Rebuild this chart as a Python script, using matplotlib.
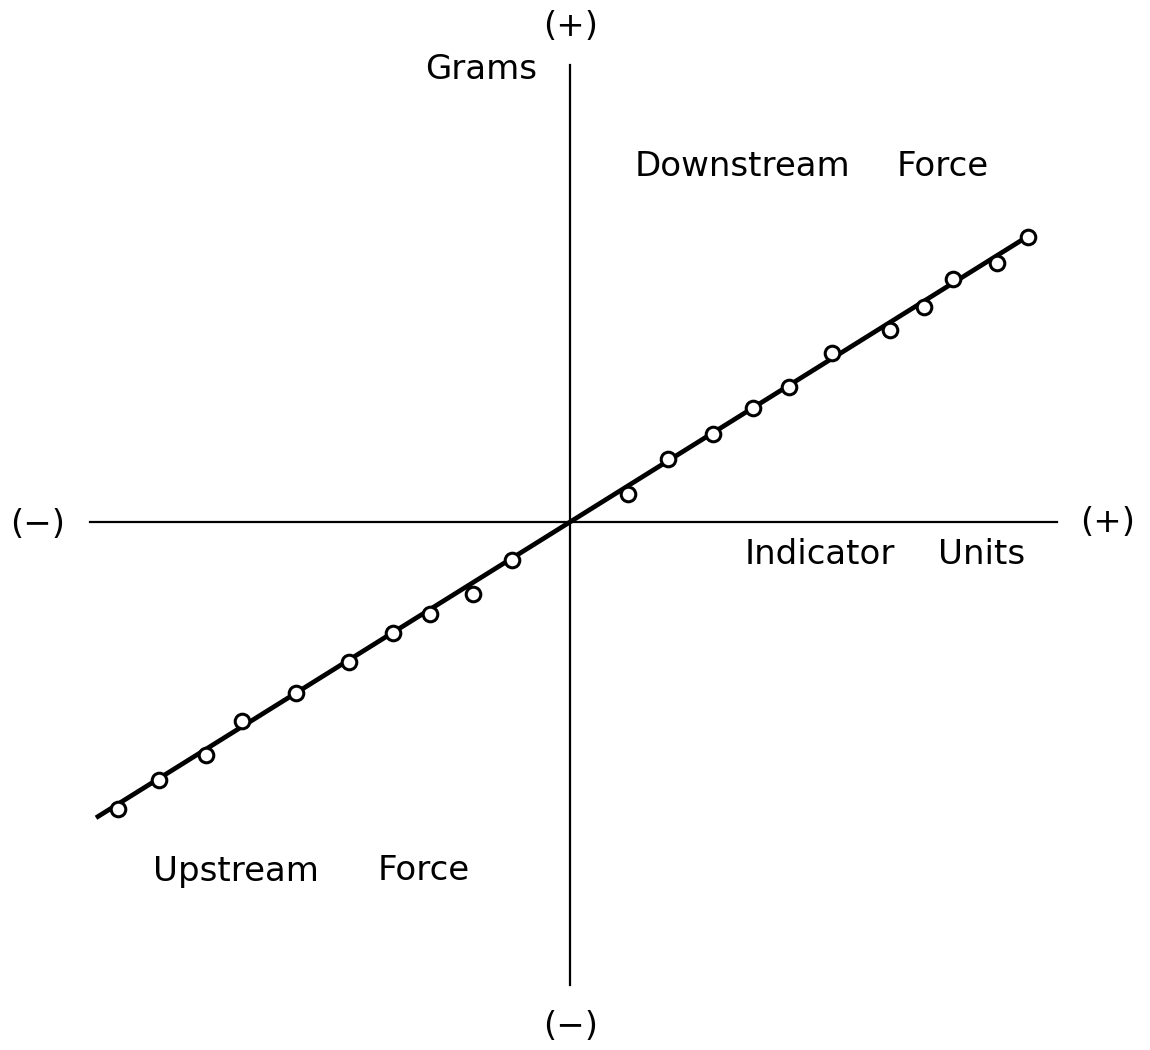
import numpy as np
import matplotlib
matplotlib.use("Agg")
import matplotlib.pyplot as plt

# calibration readings: indicator units vs grams (upstream negative, downstream positive)
indicator = [-45.2, -41.1, -36.4, -32.8, -27.4, -22.1, -17.7, -14.0, -9.7, -5.8,
             5.8, 9.8, 14.3, 18.3, 21.9, 26.2, 32.0, 35.4, 38.3, 42.7, 45.8]
grams = [-28.7, -25.8, -23.3, -19.9, -17.1, -14.0, -11.1, -9.2, -7.2, -3.8,
         2.8, 6.3, 8.8, 11.4, 13.5, 16.9, 19.2, 21.5, 24.3, 25.9, 28.5]

# calibration line through the origin
slope = 0.624
fit_x = np.array([-47.4, 45.8])
fit_y = slope * fit_x

fig = plt.figure(figsize=(11.5, 10.5), dpi=100)
ax = fig.add_axes([0, 0, 1, 1])
ax.set_xlim(-57.0, 58.0)
ax.set_ylim(-52.8, 52.2)
ax.axis("off")

# crossed axes
ax.plot([-48.0, 48.7], [0, 0], color="black", lw=1.6, zorder=1)
ax.plot([0, 0], [-46.3, 45.7], color="black", lw=1.6, zorder=1)

ax.plot(fit_x, fit_y, color="black", lw=3.4, solid_capstyle="butt", zorder=2)
ax.plot(indicator, grams, "o", ms=10.5, mfc="white", mec="black", mew=2.2, zorder=3)

fs = 24.5
txt = dict(fontsize=fs, color="black", family="DejaVu Sans")
ax.text(0.1, 49.5, "(+)", ha="center", va="center", **txt)
ax.text(-3.3, 45.2, "Grams", ha="right", va="center", **txt)
ax.text(6.5, 35.6, "Downstream", ha="left", va="center", **txt)
ax.text(32.7, 35.6, "Force", ha="left", va="center", **txt)
ax.text(-56.0, -0.3, "(−)", ha="left", va="center", **txt)
ax.text(51.0, 0.0, "(+)", ha="left", va="center", **txt)
ax.text(17.5, -3.2, "Indicator", ha="left", va="center", **txt)
ax.text(36.8, -3.2, "Units", ha="left", va="center", **txt)
ax.text(-41.7, -34.9, "Upstream", ha="left", va="center", **txt)
ax.text(-19.2, -34.9, "Force", ha="left", va="center", **txt)
ax.text(0.1, -50.4, "(−)", ha="center", va="center", **txt)

fig.savefig("out.png", dpi=100, facecolor="white")
